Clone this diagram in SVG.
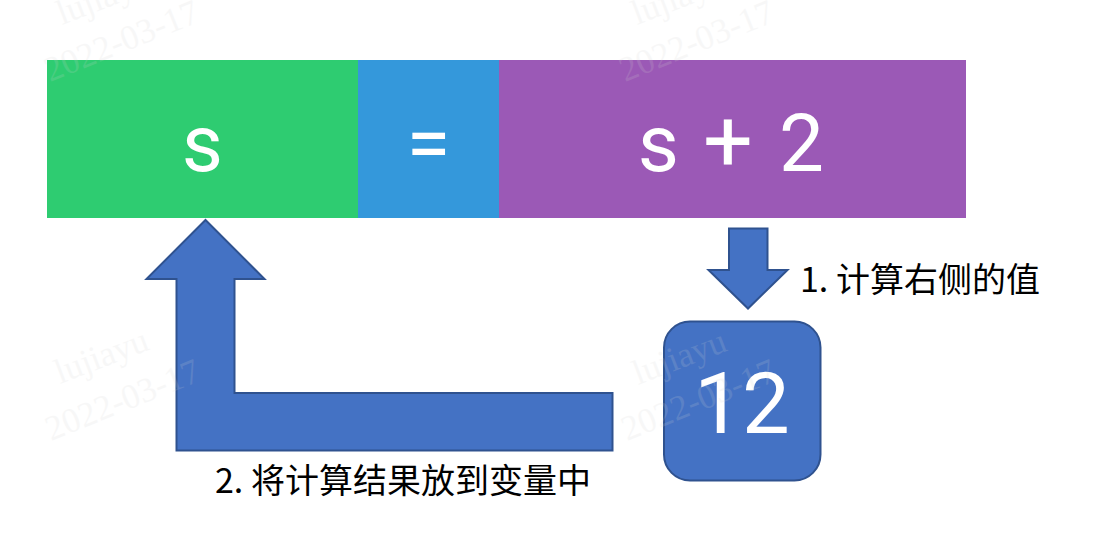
<svg xmlns="http://www.w3.org/2000/svg" width="1096" height="548" viewBox="0 0 1096 548">
<style>
.wm{font-family:"Liberation Serif",serif;font-size:35px;fill:#d4d4d4;opacity:0.16}
.big{font-family:Roboto,"Liberation Sans",sans-serif;font-size:80px;fill:#ffffff;text-anchor:middle}
.lbl{font-family:"Noto Sans CJK SC","Noto Sans",sans-serif;font-size:34px;fill:#000000}
.arrow{fill:#4472c4;stroke:#2f528f;stroke-width:2;stroke-linejoin:miter}
</style>
<rect width="1096" height="548" fill="#ffffff"/>
<g id="bar-s">
<rect x="47" y="60" width="311" height="158" fill="#2ecc71"/>
<text class="big" x="202.5" y="171">s</text>
</g>
<g id="bar-eq">
<rect x="358" y="60" width="141" height="158" fill="#3498db"/>
<text class="big" x="428.5" y="171" font-size="88">=</text>
</g>
<g id="bar-expr">
<rect x="499" y="60" width="467" height="158" fill="#9b59b6"/>
<text class="big" y="171"><tspan x="658.5">s</tspan><tspan x="728" font-size="88">+</tspan><tspan x="801.5">2</tspan></text>
</g>
<g id="connectors">
<polygon id="arrow-down" class="arrow" points="729,228.5 767.5,228.5 767.5,270 787.5,270 748,308.5 708.5,270 729,270"/>
<polygon id="arrow-back" class="arrow" points="205.5,220 264.5,279 234.5,279 234.5,393 612.5,393 612.5,450.5 176.5,450.5 176.5,279 146.5,279"/>
</g>
<g id="box-12">
<rect class="arrow" x="664" y="321.5" width="156.5" height="159" rx="26" ry="26"/>
<text x="742" y="433" font-family="Roboto,'Liberation Sans',sans-serif" font-size="85" fill="#ffffff" text-anchor="middle">12</text>
</g>
<g id="label-1">
<text class="lbl" x="800" y="292">1. 计算右侧的值</text>
</g>
<g id="label-2">
<text class="lbl" x="215" y="493">2. 将计算结果放到变量中</text>
</g>
<g id="watermarks">
<g transform="translate(62,25) rotate(-21)"><text class="wm" x="0" y="0">lujiayu</text></g>
<g transform="translate(50,82) rotate(-22)"><text class="wm" x="0" y="0">2022-03-17</text></g>
<g transform="translate(637,25) rotate(-21)"><text class="wm" x="0" y="0">lujiayu</text></g>
<g transform="translate(625,82) rotate(-22)"><text class="wm" x="0" y="0">2022-03-17</text></g>
<g transform="translate(60,384) rotate(-21)"><text class="wm" x="0" y="0">lujiayu</text></g>
<g transform="translate(51,441) rotate(-22)"><text class="wm" x="0" y="0">2022-03-17</text></g>
<g transform="translate(638,385) rotate(-21)"><text class="wm" x="0" y="0">lujiayu</text></g>
<g transform="translate(627,441) rotate(-22)"><text class="wm" x="0" y="0">2022-03-17</text></g>
</g>
</svg>
